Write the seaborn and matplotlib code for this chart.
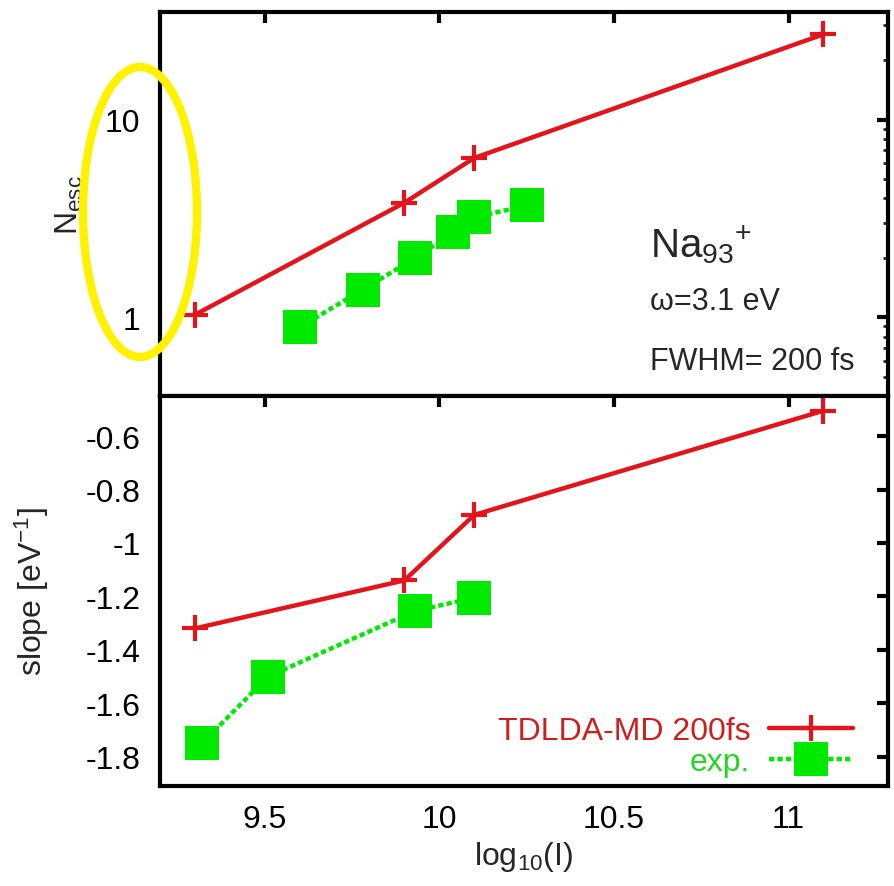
import matplotlib
matplotlib.use("Agg")
import matplotlib.pyplot as plt
from matplotlib.patches import Ellipse
from matplotlib.ticker import FixedLocator, FuncFormatter, LogLocator, NullFormatter
import seaborn as sns

# log10 of laser intensity
x_calc = [9.3, 9.9, 10.1, 11.1]
x_exp_n = [9.6, 9.78, 9.93, 10.04, 10.1, 10.25]
x_exp_s = [9.32, 9.51, 9.93, 10.1]

# number of escaped electrons
nesc_calc = [1.03, 3.8, 6.4, 27.0]
nesc_exp = [0.89, 1.38, 1.99, 2.69, 3.2, 3.68]

# slope of the kinetic energy spectrum [1/eV]
slope_calc = [-1.32, -1.14, -0.895, -0.505]
slope_exp = [-1.75, -1.5, -1.255, -1.205]

x_ticks = [9.5, 10, 10.5, 11]
nesc_ticks = [1, 10]
slope_ticks = [-1.8, -1.6, -1.4, -1.2, -1.0, -0.8, -0.6]

label_calc = "TDLDA-MD 200fs"
label_exp = "exp."

sns.set_theme(style="white")
plt.rcParams["font.family"] = ["Liberation Sans", "DejaVu Sans"]
plt.rcParams["mathtext.fontset"] = "custom"
plt.rcParams["mathtext.rm"] = "Liberation Sans"
plt.rcParams["mathtext.it"] = "Liberation Sans:italic"
plt.rcParams["axes.unicode_minus"] = False

RED = "#e3141b"
GREEN = "#00ea00"
FS = 23

fig = plt.figure(figsize=(8.94, 8.87), dpi=100)
ax_top = fig.add_axes([0.179, 0.5524, 0.8143, 0.4329])
ax_bot = fig.add_axes([0.179, 0.1127, 0.8143, 0.4397])

calc_style = dict(color=RED, lw=3.2, marker="+", markersize=19, markeredgewidth=3.0,
                  markeredgecolor=RED)
exp_style = dict(color=GREEN, lw=3.2, linestyle=(0, (1.2, 0.7)), marker="s",
                 markersize=24, markeredgewidth=0, markerfacecolor=GREEN)

sns.lineplot(x=x_calc, y=nesc_calc, ax=ax_top, **calc_style)
sns.lineplot(x=x_exp_n, y=nesc_exp, ax=ax_top, **exp_style)
sns.lineplot(x=x_calc, y=slope_calc, ax=ax_bot, label=label_calc, **calc_style)
sns.lineplot(x=x_exp_s, y=slope_exp, ax=ax_bot, label=label_exp, **exp_style)

fmt = FuncFormatter(lambda v, p: "%g" % v)

for ax in (ax_top, ax_bot):
    ax.set_xlim(9.2, 11.285)
    ax.xaxis.set_major_locator(FixedLocator(x_ticks))
    ax.xaxis.set_major_formatter(fmt)
    for s in ax.spines.values():
        s.set_linewidth(3.0)
        s.set_color("black")
    ax.tick_params(axis="both", which="major", direction="in", length=8, width=3,
                   top=True, right=True, labelsize=FS, colors="black")
    ax.tick_params(axis="x", which="major", pad=13)
    ax.tick_params(axis="y", which="major", pad=14)
    ax.tick_params(axis="both", which="minor", direction="in", length=3.5, width=2,
                   top=True, right=True)

ax_top.set_yscale("log")
ax_top.set_ylim(0.4, 35)
ax_top.yaxis.set_major_locator(FixedLocator(nesc_ticks))
ax_top.yaxis.set_major_formatter(fmt)
ax_top.yaxis.set_minor_locator(LogLocator(base=10, subs=range(2, 10)))
ax_top.yaxis.set_minor_formatter(NullFormatter())
ax_top.tick_params(axis="x", labelbottom=False)
ax_top.set_ylabel(r"N$_{\mathrm{esc}}$", fontsize=FS)
ax_top.yaxis.set_label_coords(-0.103, 0.5)

ax_bot.set_ylim(-1.91, -0.45)
ax_bot.yaxis.set_major_locator(FixedLocator(slope_ticks))
ax_bot.yaxis.set_major_formatter(fmt)
ax_bot.set_ylabel(r"slope [eV$^{-1}$]", fontsize=FS)
ax_bot.yaxis.set_label_coords(-0.15, 0.5)
ax_bot.set_xlabel(r"log$_{10}$(I)", fontsize=FS)
ax_bot.xaxis.set_label_coords(0.5, -0.135)

ax_top.text(0.673, 0.396, r"Na$_{93}{}^{+}$", transform=ax_top.transAxes,
            fontsize=29, va="center", ha="left")
ax_top.text(0.673, 0.247, "\u03c9=3.1 eV", transform=ax_top.transAxes,
            fontsize=22, va="center", ha="left")
ax_top.text(0.673, 0.091, "FWHM= 200 fs", transform=ax_top.transAxes,
            fontsize=22, va="center", ha="left")

handles, labels = ax_bot.get_legend_handles_labels()
leg = ax_bot.legend(handles, labels, loc="lower right", bbox_to_anchor=(0.982, -0.035),
                    frameon=False, markerfirst=False, fontsize=23, handlelength=2.6,
                    handletextpad=0.6, labelspacing=0.05, borderpad=0.2)
for txt, c in zip(leg.get_texts(), ["#cc1f1f", "#22d622"]):
    txt.set_color(c)

# highlight around the N_esc tick labels
fig.add_artist(Ellipse((0.1566, 0.7599), 0.1275, 0.327, transform=fig.transFigure,
                       fill=False, edgecolor="#fff200", linewidth=6, clip_on=False))

fig.savefig("out.png", dpi=100, facecolor="white")
